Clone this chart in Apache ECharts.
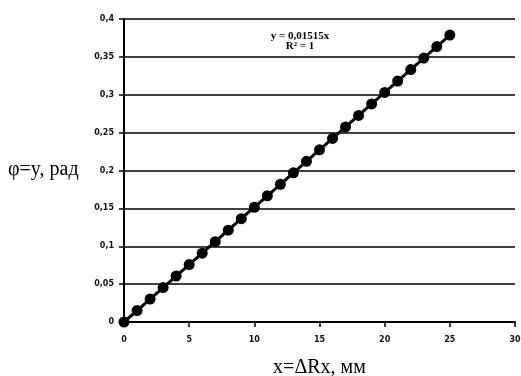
<!DOCTYPE html>
<html><head><meta charset="utf-8">
<script src="https://cdn.jsdelivr.net/npm/echarts@6/dist/echarts.min.js"></script>
<style>html,body{margin:0;padding:0;background:#fff}#c{width:521px;height:376px}</style>
</head><body><div id="c"></div>
<script>
const xValues = [0,1,2,3,4,5,6,7,8,9,10,11,12,13,14,15,16,17,18,19,20,21,22,23,24,25];
const yValues = [0,0.01515,0.0303,0.04545,0.0606,0.07575,0.0909,0.10605,0.1212,0.13635,0.1515,0.16665,0.1818,0.19695,0.2121,0.22725,0.2424,0.25755,0.2727,0.28785,0.303,0.31815,0.3333,0.34845,0.3636,0.37875];
const yAxisTitle = 'φ=y, рад';
const xAxisTitle = 'x=ΔRx, мм';
const trendLines = ['y = 0,01515x', 'R² = 1'];

const chart = echarts.init(document.getElementById('c'), null, {renderer:'canvas'});
const fmt = v => String(+v.toFixed(4)).replace('.', ',');
const tickFont = {fontFamily:'DejaVu Sans', fontSize:8, fontWeight:'bold', color:'#111'};
chart.setOption({
  animation:false,
  grid:{left:124, right:6, top:19, bottom:54, containLabel:false, outerBoundsMode:'none'},
  xAxis:{type:'value', min:0, max:30, interval:5,
    axisLine:{lineStyle:{color:'#000', width:2}},
    axisTick:{show:true, inside:false, length:5, lineStyle:{color:'#000', width:1.5}},
    axisLabel:Object.assign({formatter:fmt, margin:14}, tickFont),
    splitLine:{show:false},
    name:xAxisTitle, nameLocation:'middle', nameGap:36,
    nameTextStyle:{fontFamily:'Liberation Serif', fontSize:20, color:'#000'}},
  yAxis:{type:'value', min:0, max:0.4, interval:0.05,
    axisLine:{show:true, lineStyle:{color:'#000', width:2}},
    axisTick:{show:true, inside:false, length:5, lineStyle:{color:'#000', width:1.5}},
    axisLabel:Object.assign({formatter:fmt, margin:10}, tickFont),
    splitLine:{show:true, lineStyle:{color:'#000', width:1.5}}},
  graphic:[
    {type:'text', x:8, y:170, style:{text:yAxisTitle, font:'20px "Liberation Serif"', fill:'#000', textVerticalAlign:'middle'}},
    {type:'text', x:300, y:36, style:{text:trendLines[0], font:'bold 11px "Liberation Serif"', fill:'#000', textAlign:'center', textVerticalAlign:'middle'}},
    {type:'text', x:300, y:46, style:{text:trendLines[1], font:'bold 11px "Liberation Serif"', fill:'#000', textAlign:'center', textVerticalAlign:'middle'}}
  ],
  series:[{type:'line', data:xValues.map((x,i)=>[x,yValues[i]]),
    symbol:'circle', symbolSize:11,
    itemStyle:{color:'#000'}, lineStyle:{color:'#000', width:3}}]
});
</script></body></html>
